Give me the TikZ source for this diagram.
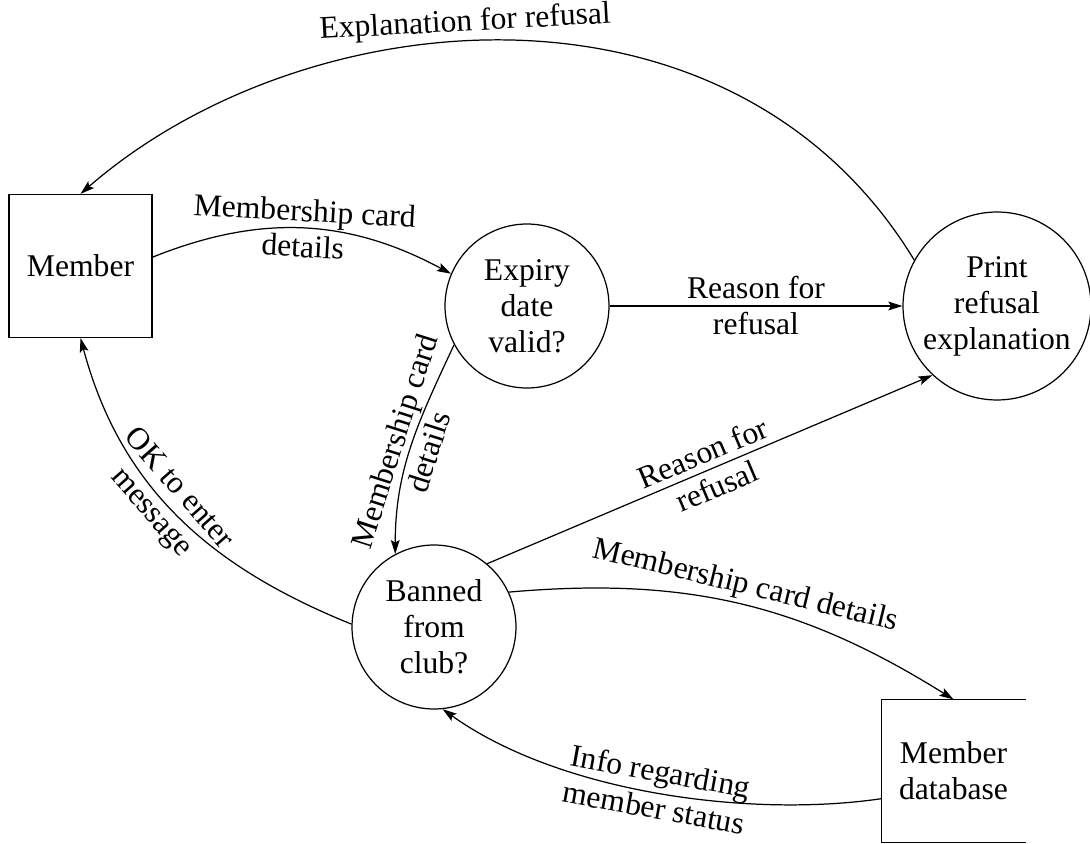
\documentclass[tikz,border=0pt]{standalone}
\usepackage{fontspec}
\setmainfont{Liberation Serif}
\usetikzlibrary{arrows.meta,positioning}
\tikzset{
  entitybox/.style={draw, rectangle, minimum size=2.86cm, inner sep=0pt},
  processnode/.style={draw, circle, minimum size=3.28cm, inner sep=0pt, align=center},
  storebox/.style={rectangle, minimum width=2.86cm, minimum height=2.84cm, inner sep=0pt, align=center},
  flowarrow/.style={-{Stealth[length=8pt,width=5pt,inset=1.5pt]}},
  flowlabel/.style={midway, sloped, align=center, inner sep=2pt}
}

\begin{document}
\begin{tikzpicture}[x=0.02cm, y=0.02cm, font=\fontsize{18}{20.5}\selectfont, line width=0.7pt]
  \useasboundingbox (0,0) rectangle (1090,843);

  \node[entitybox] (member) at (80.5,577) {Member};
  \node[processnode] (expiry) at (527,537) {Expiry\\date\\valid?};
  \node[processnode, minimum size=3.76cm] (print) at (997,537) {Print\\refusal\\explanation};
  \node[processnode] (banned) at (434,216) {Banned\\from\\club?};
  \node[storebox] (database) at (953.5,72) {Member\\database};
  \draw (database.north east) -- (database.north west) -- (database.south west) -- (database.south east);

  \draw[flowarrow] (member.7) to[bend left=25] node[flowlabel] {Membership card\\details} (expiry.157);
  \draw[flowarrow] (expiry.east) -- node[flowlabel] {Reason for\\refusal} (print.west);
  \draw[flowarrow] (print.151) .. controls (732,883) and (306,845) .. node[flowlabel, pos=0.55, above] {Explanation for refusal} (member.north);
  \draw[flowarrow] (expiry.208) to[out=245, in=90] node[flowlabel] {Membership card\\details} (banned.118);
  \draw[flowarrow] (banned.50) -- node[flowlabel] {Reason for\\refusal} (print.227);
  \draw[flowarrow] (banned.25) to[out=5, in=148] node[flowlabel, above] {Membership card details} (database.north);
  \draw[flowarrow] (database.201) .. controls (750,25) and (560,50) .. node[flowlabel, above] {Info regarding} node[flowlabel, below] {member status} (banned.276);
  \draw[flowarrow] (banned.178) to[out=158, in=285] node[flowlabel, pos=0.55] {OK to enter\\message} (member.south);
\end{tikzpicture}
\end{document}
